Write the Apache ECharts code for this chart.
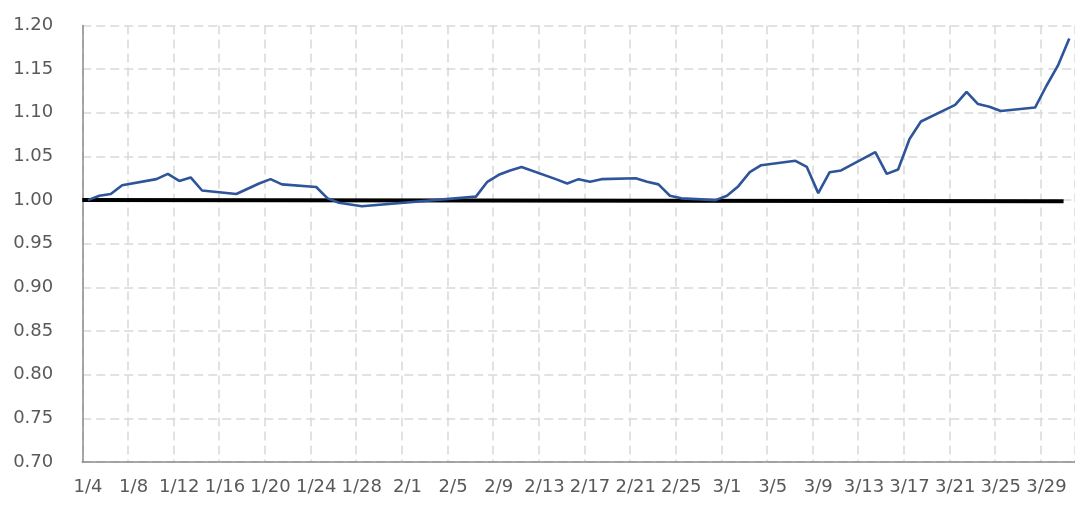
<!DOCTYPE html>
<html>
<head>
<meta charset="utf-8">
<script src="https://cdn.jsdelivr.net/npm/echarts@6/dist/echarts.min.js"></script>
<style>
  html, body { margin: 0; padding: 0; background: #ffffff; }
  #chart { width: 1075px; height: 505px; }
</style>
</head>
<body>
<div id="chart"></div>
<script>
// ---- data ----
const axisStart = '2022-01-04';
const axisEnd = '2022-03-31';
const tradingDays = [
  '2022-01-04','2022-01-05','2022-01-06','2022-01-07',
  '2022-01-10','2022-01-11','2022-01-12','2022-01-13','2022-01-14',
  '2022-01-17','2022-01-18','2022-01-19','2022-01-20','2022-01-21',
  '2022-01-24','2022-01-25','2022-01-26','2022-01-27','2022-01-28',
  '2022-02-07','2022-02-08','2022-02-09','2022-02-10','2022-02-11',
  '2022-02-14','2022-02-15','2022-02-16','2022-02-17','2022-02-18',
  '2022-02-21','2022-02-22','2022-02-23','2022-02-24','2022-02-25',
  '2022-02-28','2022-03-01','2022-03-02','2022-03-03','2022-03-04',
  '2022-03-07','2022-03-08','2022-03-09','2022-03-10','2022-03-11',
  '2022-03-14','2022-03-15','2022-03-16','2022-03-17','2022-03-18',
  '2022-03-21','2022-03-22','2022-03-23','2022-03-24','2022-03-25',
  '2022-03-28','2022-03-29','2022-03-30','2022-03-31'
];
const values = [
  1.000, 1.005, 1.007, 1.017,
  1.024, 1.030, 1.022, 1.026, 1.011,
  1.007, 1.013, 1.019, 1.024, 1.018,
  1.015, 1.002, 0.997, 0.995, 0.993,
  1.004, 1.021, 1.029, 1.034, 1.038,
  1.024, 1.019, 1.024, 1.021, 1.024,
  1.025, 1.021, 1.018, 1.005, 1.002,
  1.000, 1.005, 1.016, 1.032, 1.040,
  1.045, 1.038, 1.008, 1.032, 1.034,
  1.055, 1.030, 1.035, 1.070, 1.090,
  1.109, 1.124, 1.110, 1.107, 1.102,
  1.106, 1.131, 1.154, 1.185
];
// benchmark line: day offsets from axis start (slot boundaries) and values
const benchmarkDays = [0, 86];
const benchmarkValues = [1.000, 0.9986];
const yTickLabels = ['0.70','0.75','0.80','0.85','0.90','0.95','1.00','1.05','1.10','1.15','1.20'];

// ---- build category axis (every calendar day) ----
const dayMs = 86400000;
const t0 = Date.parse(axisStart + 'T00:00:00Z');
const t1 = Date.parse(axisEnd + 'T00:00:00Z');
const categories = [];
const keys = [];
for (let t = t0; t <= t1; t += dayMs) {
  const d = new Date(t);
  categories.push((d.getUTCMonth() + 1) + '/' + d.getUTCDate());
  keys.push(d.toISOString().slice(0, 10));
}
const valueByDay = {};
tradingDays.forEach((k, i) => { valueByDay[k] = values[i]; });
const seriesData = keys.map(k => (k in valueByDay ? valueByDay[k] : null));
const nDays = categories.length;

const chart = echarts.init(document.getElementById('chart'), null, { renderer: 'canvas' });
const gridColor = '#d9d9d9';
const labelColor = '#595959';
const fontFamily = 'DejaVu Sans';

chart.setOption({
  animation: false,
  backgroundColor: '#ffffff',
  grid: { left: 82.25, top: 25.5, width: 995, height: 436.5, containLabel: false },
  xAxis: [
    {
      type: 'category',
      data: categories,
      boundaryGap: true,
      axisLine: { show: true, lineStyle: { color: '#8c8c8c', width: 1.5 } },
      axisTick: { show: false, interval: 3 },
      axisLabel: {
        interval: 3, color: labelColor, fontFamily: fontFamily, fontSize: 18, margin: 16
      },
      splitLine: {
        show: true, interval: 3,
        lineStyle: { color: gridColor, width: 1.5, type: [9, 5] }
      }
    },
    {
      type: 'value', show: false, min: 0, max: nDays,
      axisLine: { show: false }, axisTick: { show: false },
      axisLabel: { show: false }, splitLine: { show: false }
    }
  ],
  yAxis: {
    type: 'value',
    min: 0.70, max: 1.20, interval: 0.05,
    axisLine: { show: true, lineStyle: { color: '#8c8c8c', width: 1.5 } },
    axisTick: { show: false },
    axisLabel: {
      color: labelColor, fontFamily: fontFamily, fontSize: 18, margin: 29,
      formatter: function (v) {
        const idx = Math.round((v - 0.70) / 0.05);
        return yTickLabels[idx] !== undefined ? yTickLabels[idx] : v.toFixed(2);
      }
    },
    splitLine: { show: true, lineStyle: { color: gridColor, width: 1.5, type: [9, 5] } }
  },
  series: [
    {
      name: 'benchmark',
      type: 'line',
      xAxisIndex: 1,
      data: benchmarkDays.map((d, i) => [d, benchmarkValues[i]]),
      symbol: 'none',
      lineStyle: { color: '#000000', width: 4 },
      z: 2
    },
    {
      name: 'value',
      type: 'line',
      xAxisIndex: 0,
      data: seriesData,
      connectNulls: true,
      symbol: 'none',
      lineStyle: { color: '#2E549A', width: 2.6 },
      z: 3
    }
  ]
});
</script>
</body>
</html>
